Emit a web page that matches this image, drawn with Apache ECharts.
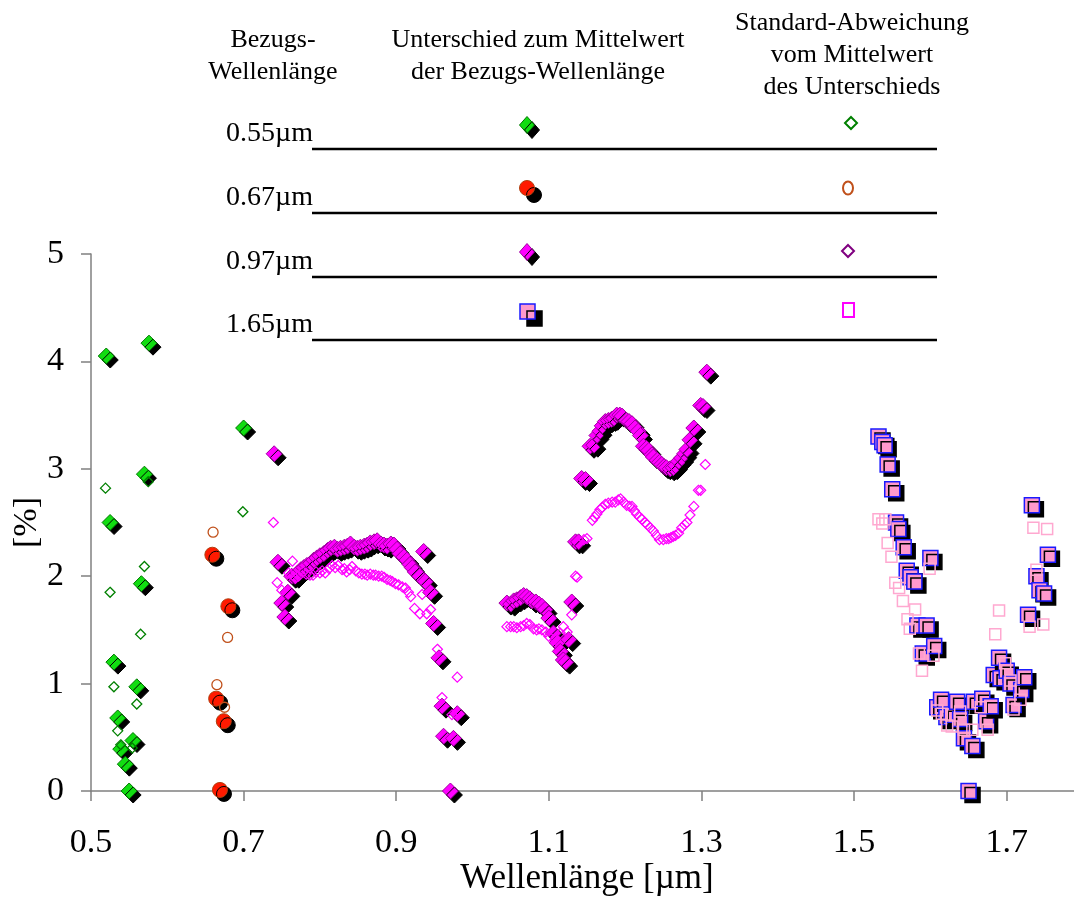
<!DOCTYPE html>
<html><head><meta charset="utf-8">
<script src="https://cdn.jsdelivr.net/npm/echarts@6/dist/echarts.min.js"></script>
<style>html,body{margin:0;padding:0;background:#fff}#c{width:1074px;height:897px}</style>
</head><body><div id="c"></div>
<script>
// ---- data ----
const xTicks = [0.5, 0.7, 0.9, 1.1, 1.3, 1.5, 1.7];
const yTicks = [0, 1, 2, 3, 4, 5];
const rowLabels = ['0.55\u00b5m', '0.67\u00b5m', '0.97\u00b5m', '1.65\u00b5m'];
const headLeft = ['Bezugs-', 'Wellenl\u00e4nge'];
const headMid = ['Unterschied zum Mittelwert', 'der Bezugs-Wellenl\u00e4nge'];
const headRight = ['Standard-Abweichung', 'vom Mittelwert', 'des Unterschieds'];

// 0.55 µm reference
const gr = [[0.520,4.05],[0.525,2.50],[0.530,1.20],[0.535,0.68],[0.539,0.39],[0.545,0.25],[0.550,0.00],[0.555,0.47],[0.560,0.97],[0.566,1.93],[0.570,2.95],[0.576,4.17],[0.700,3.38]];
const grStd = [[0.519,2.82],[0.525,1.85],[0.530,0.97],[0.535,0.56],[0.539,0.43],[0.554,0.40],[0.560,0.81],[0.565,1.46],[0.570,2.09],[0.575,2.88],[0.699,2.60]];
// 0.67 µm reference
const rd = [[0.659,2.20],[0.664,0.86],[0.669,0.01],[0.674,0.65],[0.680,1.72]];
const rdStd = [[0.660,2.41],[0.665,0.99],[0.675,0.78],[0.679,1.43]];
// 0.97 µm reference
const mg = [[0.740,3.14],[0.745,2.13],[0.750,1.75],[0.754,1.62],[0.758,1.85],[0.763,2.00],
[0.767,2.00],[0.771,2.03],[0.775,2.06],[0.779,2.08],[0.783,2.10],[0.788,2.12],[0.792,2.15],[0.796,2.17],[0.800,2.19],[0.805,2.21],[0.810,2.24],[0.814,2.26],[0.819,2.27],[0.823,2.25],[0.827,2.26],[0.832,2.27],[0.836,2.28],[0.840,2.30],[0.845,2.27],[0.849,2.26],[0.853,2.27],[0.858,2.28],[0.862,2.29],[0.866,2.31],[0.871,2.32],[0.875,2.33],[0.880,2.30],[0.884,2.29],[0.888,2.28],[0.893,2.30],[0.897,2.29],[0.901,2.25],[0.905,2.21],[0.910,2.18],[0.914,2.15],[0.918,2.11],[0.921,2.08],[0.925,2.04],[0.931,2.00],[0.936,2.23],[0.938,1.95],[0.945,1.85],[0.949,1.56],[0.956,1.24],[0.960,0.79],[0.962,0.51],[0.971,0.00],[0.975,0.49],[0.980,0.72],
[1.045,1.75],[1.050,1.74],[1.054,1.77],[1.058,1.78],[1.063,1.80],[1.067,1.82],[1.071,1.81],[1.075,1.79],[1.078,1.77],[1.083,1.76],[1.087,1.74],[1.091,1.72],[1.095,1.69],[1.100,1.61],[1.106,1.47],[1.111,1.38],[1.115,1.30],[1.119,1.22],[1.122,1.20],[1.126,1.41],[1.130,1.76],[1.135,2.32],[1.139,2.32],[1.143,2.91],[1.148,2.90],[1.154,3.21],[1.159,3.22],[1.163,3.31],[1.167,3.35],[1.170,3.40],[1.174,3.44],[1.178,3.45],[1.182,3.46],[1.185,3.47],[1.189,3.50],[1.193,3.50],[1.196,3.49],[1.202,3.45],[1.205,3.44],[1.209,3.42],[1.213,3.38],[1.217,3.35],[1.220,3.31],[1.224,3.21],[1.228,3.19],[1.231,3.17],[1.235,3.13],[1.237,3.11],[1.242,3.08],[1.245,3.06],[1.248,3.04],[1.251,3.02],[1.254,3.01],[1.259,3.00],[1.263,3.01],[1.266,3.03],[1.270,3.07],[1.274,3.10],[1.278,3.14],[1.281,3.18],[1.285,3.27],[1.290,3.38],[1.299,3.59],[1.302,3.58],[1.307,3.90]];
const mgStd = [[0.739,2.50],[0.744,1.94],[0.750,1.87],[0.759,2.03],[0.764,2.14],[0.768,1.98],[0.772,2.00],[0.778,2.04],[0.782,2.02],[0.787,2.01],[0.791,2.01],[0.795,2.04],[0.800,2.03],[0.803,2.05],[0.807,2.03],[0.812,2.07],[0.816,2.10],[0.820,2.08],[0.824,2.10],[0.829,2.06],[0.832,2.07],[0.835,2.04],[0.839,2.06],[0.842,2.09],[0.847,2.05],[0.851,2.03],[0.855,2.02],[0.859,2.02],[0.862,2.01],[0.866,2.02],[0.870,2.01],[0.873,2.01],[0.877,2.00],[0.881,2.00],[0.884,1.99],[0.888,1.97],[0.892,1.96],[0.895,1.95],[0.899,1.93],[0.903,1.92],[0.908,1.90],[0.912,1.89],[0.916,1.85],[0.919,1.81],[0.924,1.70],[0.931,1.65],[0.934,1.83],[0.940,1.65],[0.945,1.69],[0.954,1.32],[0.960,0.87],[0.973,0.71],[0.980,1.06],
[1.045,1.53],[1.050,1.53],[1.054,1.53],[1.058,1.52],[1.063,1.53],[1.067,1.54],[1.071,1.56],[1.075,1.55],[1.080,1.51],[1.084,1.50],[1.087,1.51],[1.091,1.50],[1.096,1.48],[1.100,1.44],[1.108,1.41],[1.115,1.47],[1.119,1.53],[1.124,1.48],[1.130,1.64],[1.135,2.00],[1.137,1.99],[1.146,2.34],[1.150,2.35],[1.157,2.52],[1.160,2.55],[1.163,2.58],[1.167,2.62],[1.170,2.64],[1.174,2.67],[1.178,2.68],[1.183,2.69],[1.187,2.69],[1.191,2.71],[1.194,2.72],[1.198,2.69],[1.202,2.66],[1.206,2.65],[1.209,2.65],[1.212,2.61],[1.215,2.58],[1.219,2.55],[1.222,2.53],[1.226,2.50],[1.229,2.48],[1.233,2.45],[1.237,2.42],[1.241,2.38],[1.245,2.34],[1.250,2.34],[1.254,2.35],[1.257,2.35],[1.260,2.36],[1.263,2.37],[1.266,2.38],[1.270,2.40],[1.274,2.45],[1.278,2.48],[1.281,2.50],[1.285,2.57],[1.290,2.65],[1.296,2.80],[1.299,2.80],[1.305,3.04]];
// 1.65 µm reference
const pk = [[1.532,3.30],[1.537,3.25],[1.540,3.22],[1.544,3.04],[1.550,2.81],[1.555,2.50],[1.558,2.44],[1.565,2.27],[1.569,2.05],[1.574,1.99],[1.579,1.95],[1.583,1.54],[1.590,1.28],[1.595,1.54],[1.600,2.17],[1.605,1.35],[1.609,0.78],[1.614,0.85],[1.621,0.69],[1.628,0.71],[1.635,0.83],[1.639,0.67],[1.644,0.49],[1.650,0.00],[1.655,0.42],[1.657,0.83],[1.668,0.86],[1.673,0.65],[1.679,0.79],[1.683,1.08],[1.690,1.24],[1.692,1.05],[1.700,1.12],[1.705,1.00],[1.709,0.80],[1.719,0.94],[1.723,1.06],[1.728,1.64],[1.733,2.66],[1.739,2.00],[1.743,1.87],[1.749,1.84],[1.754,2.20]];
const pkStd = [[1.532,2.53],[1.537,2.49],[1.541,2.53],[1.544,2.31],[1.549,2.18],[1.554,1.94],[1.559,1.89],[1.564,1.77],[1.570,1.60],[1.573,1.51],[1.580,1.69],[1.585,1.28],[1.589,1.12],[1.599,2.07],[1.604,1.26],[1.609,0.75],[1.615,0.72],[1.622,0.61],[1.628,0.60],[1.639,0.74],[1.644,0.57],[1.655,0.57],[1.666,0.78],[1.675,0.57],[1.685,1.46],[1.690,1.68],[1.698,1.19],[1.705,1.03],[1.709,0.76],[1.718,0.85],[1.730,1.53],[1.735,2.45],[1.739,2.06],[1.748,1.55],[1.753,2.44]];

// ---- styles ----
const FONT = 'Liberation Serif, Times New Roman, serif';
const SH = {shadowColor:'#000', shadowOffsetX:4, shadowOffsetY:4, shadowBlur:0};
function filled(data, symbol, size, fill, border, bw){
  return {type:'scatter', data, symbol, symbolSize:size, animation:false,
    itemStyle:Object.assign({color:fill, borderColor:border, borderWidth:bw, opacity:1}, SH)};
}
function hollow(data, symbol, size, color, bw){
  return {type:'scatter', data, symbol, symbolSize:size, animation:false,
    itemStyle:{color:'rgba(0,0,0,0)', borderColor:color, borderWidth:bw, opacity:1}};
}

// ---- legend graphics ----
const g = [];
function txt(s, x, y, align, size){
  g.push({type:'text', x, y, silent:true, style:{text:s, font:size+'px '+FONT, fill:'#000',
    align:align, verticalAlign:'middle', textAlign:align, textVerticalAlign:'middle'}});
}
headLeft.forEach((s,i)=>txt(s, 273, 40 + i*32, 'center', 26));
headMid.forEach((s,i)=>txt(s, 538, 40 + i*32, 'center', 26));
headRight.forEach((s,i)=>txt(s, 852, 23 + i*32, 'center', 26));
const rowY = [149, 213, 277, 340];
rowLabels.forEach((s,i)=>{
  txt(s, 313, rowY[i]-15, 'right', 28);
  g.push({type:'line', silent:true, shape:{x1:312, y1:rowY[i], x2:937, y2:rowY[i]}, style:{stroke:'#000', lineWidth:2.5}});
});
function diamond(cx, cy, w, h){ return [[cx, cy-h/2],[cx+w/2, cy],[cx, cy+h/2],[cx-w/2, cy]]; }
const LSH = (o)=>({shadowColor:'#000', shadowOffsetX:o, shadowOffsetY:o, shadowBlur:0});
g.push({type:'polygon', silent:true, shape:{points:diamond(527,125,15,17)}, style:Object.assign({fill:'#11dd11', stroke:'#007700', lineWidth:1}, LSH(5))});
g.push({type:'circle', silent:true, shape:{cx:527, cy:188, r:7.5}, style:Object.assign({fill:'#ff1a00', stroke:'#b04010', lineWidth:1}, LSH(7))});
g.push({type:'polygon', silent:true, shape:{points:diamond(527,252,15,17)}, style:Object.assign({fill:'#ff00ff', stroke:'#a000a0', lineWidth:1}, LSH(5))});
g.push({type:'rect', silent:true, shape:{x:520, y:304, width:15, height:15}, style:Object.assign({fill:'#ff99cc', stroke:'#1a1aff', lineWidth:1.5}, LSH(7))});
g.push({type:'polygon', silent:true, shape:{points:diamond(851,123,12,12)}, style:{fill:'none', stroke:'#008000', lineWidth:2}});
g.push({type:'ellipse', silent:true, shape:{cx:848, cy:188, rx:5, ry:6.5}, style:{fill:'none', stroke:'#c0501a', lineWidth:2}});
g.push({type:'polygon', silent:true, shape:{points:diamond(848,251,12,12)}, style:{fill:'none', stroke:'#800080', lineWidth:2}});
g.push({type:'rect', silent:true, shape:{x:843, y:303, width:11, height:14}, style:{fill:'none', stroke:'#ff00ff', lineWidth:2}});

const chart = echarts.init(document.getElementById('c'), null, {renderer:'canvas'});
chart.setOption({
  backgroundColor:'#fff',
  animation:false,
  grid:{left:91, top:254, width:992, height:537, containLabel:false, outerBoundsMode:'none'},
  xAxis:{type:'value', min:0.5, max:1.8, interval:0.2,
    name:'Wellenl\u00e4nge [\u00b5m]', nameLocation:'middle', nameGap:70, nameMoveOverlap:false,
    nameTextStyle:{fontFamily:FONT, fontSize:35, color:'#000'},
    axisLine:{onZero:false, lineStyle:{color:'#808080', width:1.5}},
    axisTick:{show:true, inside:false, length:10, lineStyle:{color:'#808080', width:1.5}},
    axisLabel:{fontFamily:FONT, fontSize:34, color:'#000', margin:35, showMaxLabel:false,
      formatter:v=>{const t=xTicks.find(k=>Math.abs(k-v)<1e-6); return t===undefined?'':t.toFixed(1);}},
    splitLine:{show:false}},
  yAxis:{type:'value', min:0, max:5, interval:1,
    name:'[%]', nameLocation:'middle', nameGap:47, nameMoveOverlap:false,
    nameTextStyle:{fontFamily:FONT, fontSize:34, color:'#000'},
    axisLine:{show:true, lineStyle:{color:'#808080', width:1.5}},
    axisTick:{show:true, inside:false, length:10, lineStyle:{color:'#808080', width:1.5}},
    axisLabel:{fontFamily:FONT, fontSize:34, color:'#000', margin:27,
      formatter:v=>{const t=yTicks.find(k=>Math.abs(k-v)<1e-6); return t===undefined?'':String(t);}},
    splitLine:{show:false}},
  series:[
    filled(gr, 'diamond', [16,16], '#11dd11', '#007700', 1),
    hollow(grStd, 'diamond', [10,10], '#008000', 1.3),
    filled(rd, 'circle', 15, '#ff1a00', '#b04010', 1),
    hollow(rdStd, 'circle', [10,10], '#c0501a', 1.3),
    filled(mg, 'diamond', [16,16], '#ff00ff', '#a000a0', 1),
    hollow(mgStd, 'diamond', [10,10], '#ff00ff', 1.2),
    filled(pk, 'rect', 15, '#ff99cc', '#1a1aff', 1.5),
    hollow(pkStd, 'rect', 11, '#ffa8d0', 1.5)
  ],
  graphic:g
});
</script>
</body></html>
